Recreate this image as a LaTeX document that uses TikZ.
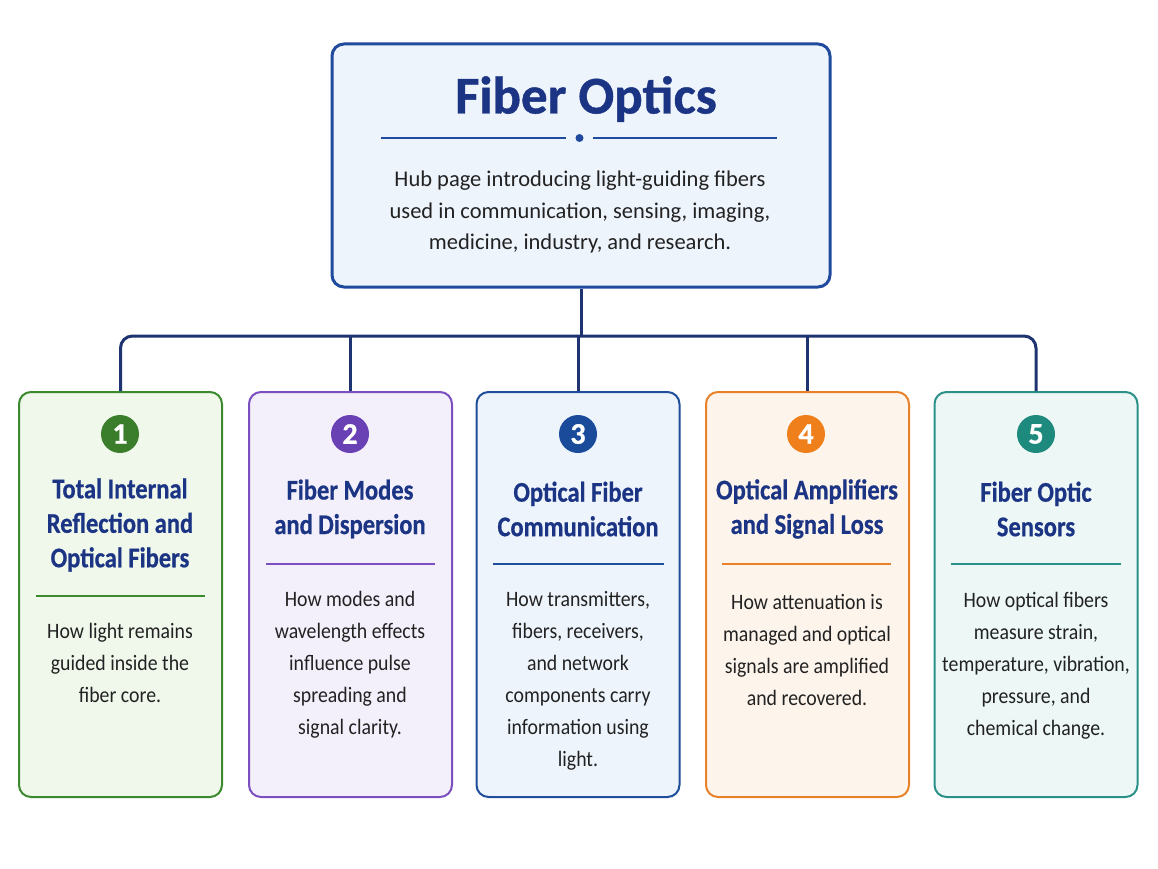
\documentclass[tikz,border=0pt]{standalone}
\usepackage{fontspec}
\setmainfont{Carlito}
\newfontfamily\bodyf[FakeStretch=0.90]{Carlito}
\newfontfamily\titlef[FakeStretch=0.86,FakeBold=0.6]{Carlito}
\newfontfamily\hubtf[FakeBold=0.8]{Carlito}
\definecolor{navy}{HTML}{1B3483}
\definecolor{conncol}{HTML}{1E3470}
\definecolor{txt}{HTML}{222222}
\definecolor{hubfill}{HTML}{EEF4FC}
\definecolor{hubline}{HTML}{1F4A9E}
\definecolor{gline}{HTML}{3C8A2E}\definecolor{gfill}{HTML}{F0F8EC}\definecolor{gdot}{HTML}{3A7D2A}
\definecolor{pline}{HTML}{7B4FC0}\definecolor{pfill}{HTML}{F4F0FB}\definecolor{pdot}{HTML}{6A40B5}
\definecolor{bline}{HTML}{1F4E9A}\definecolor{bfill}{HTML}{EEF4FC}\definecolor{bdot}{HTML}{1A4A9A}
\definecolor{oline}{HTML}{E8822A}\definecolor{ofill}{HTML}{FDF5EC}\definecolor{odot}{HTML}{EE7F1A}
\definecolor{tline}{HTML}{2A9088}\definecolor{tfill}{HTML}{ECF7F6}\definecolor{tdot}{HTML}{1E8A7E}
\begin{document}
\begin{tikzpicture}[x=1pt,y=-1pt,
  hubbox/.style={draw=hubline, line width=3pt, fill=hubfill, rounded corners=12pt, minimum width=498pt, minimum height=243pt},
  child/.style={line width=2pt, rounded corners=12pt, minimum width=203pt, minimum height=405pt},
  conn/.style={draw=conncol, line width=3pt},
  num/.style={circle, minimum size=38pt, inner sep=0pt, text=white, font=\hubtf\bfseries\fontsize{30}{30}\selectfont},
  ctitle/.style={text=navy, align=center, inner sep=0pt, font=\titlef\bfseries\fontsize{28.5}{34.5}\selectfont},
  cbody/.style={text=txt, align=center, inner sep=0pt, font=\bodyf\fontsize{22}{32}\selectfont},
  divider/.style={line width=1.6pt}
]
\useasboundingbox (0,0) rectangle (1158,869);
\fill[white] (0,0) rectangle (1158,869);

% hub
\node[hubbox] (hub) at (581,165.5) {};
\node[text=navy, inner sep=0pt, font=\hubtf\bfseries\fontsize{53}{53}\selectfont] (hubtitle) at (586,99) {Fiber Optics};
\draw[hubline, line width=1.6pt] (381,138) -- (566,138) (593,138) -- (777,138);
\fill[hubline] (579.5,138) circle (4pt);
\node[cbody, font=\fontsize{22.5}{31.5}\selectfont] (hubtext) at (580,212)
  {Hub page introducing light-guiding fibers\\used in communication, sensing, imaging,\\medicine, industry, and research.};

% children boxes
\node[child, draw=gline, fill=gfill] (c1) at (120.5,594.5) {};
\node[child, draw=pline, fill=pfill] (c2) at (350.5,594.5) {};
\node[child, draw=bline, fill=bfill] (c3) at (578,594.5) {};
\node[child, draw=oline, fill=ofill] (c4) at (807.5,594.5) {};
\node[child, draw=tline, fill=tfill] (c5) at (1036,594.5) {};

% connectors
\coordinate (bus) at (581,336);
\draw[conn] (hub.south) -- (bus);
\draw[conn, rounded corners=12pt] (c1.north) |- (bus) -| (c5.north);
\draw[conn] (c2.north) -- (c2.north |- bus);
\draw[conn] (c3.north) -- (c3.north |- bus);
\draw[conn] (c4.north) -- (c4.north |- bus);

% numbers
\node[num, fill=gdot] (n1) at (120,434) {1};
\node[num, fill=pdot] (n2) at (350,434) {2};
\node[num, fill=bdot] (n3) at (578,434) {3};
\node[num, fill=odot] (n4) at (806,434) {4};
\node[num, fill=tdot] (n5) at (1036,434) {5};

% titles
\node[ctitle] (t1) at (120,525) {Total Internal\\Reflection and\\Optical Fibers};
\node[ctitle] (t2) at (350,509) {Fiber Modes\\and Dispersion};
\node[ctitle] (t3) at (578,509) {Optical Fiber\\Communication};
\node[ctitle] (t4) at (807,509) {Optical Amplifiers\\and Signal Loss};
\node[ctitle] (t5) at (1036,509) {Fiber Optic\\Sensors};

% dividers
\draw[divider, gline] (36,596) -- (205,596);
\draw[divider, pline] (266,564) -- (435,564);
\draw[divider, bline] (493,564) -- (664,564);
\draw[divider, oline] (722,564) -- (891,564);
\draw[divider, tline] (951,564) -- (1121,564);

% bodies
\node[cbody] (b1) at (120,663) {How light remains\\guided inside the\\fiber core.};
\node[cbody] (b2) at (350,665) {How modes and\\wavelength effects\\influence pulse\\spreading and\\signal clarity.};
\node[cbody] (b3) at (578,681) {How transmitters,\\fibers, receivers,\\and network\\components carry\\information using\\light.};
\node[cbody] (b4) at (807,650) {How attenuation is\\managed and optical\\signals are amplified\\and recovered.};
\node[cbody] (b5) at (1036,666) {How optical fibers\\measure strain,\\temperature, vibration,\\pressure, and\\chemical change.};
\end{tikzpicture}
\end{document}
